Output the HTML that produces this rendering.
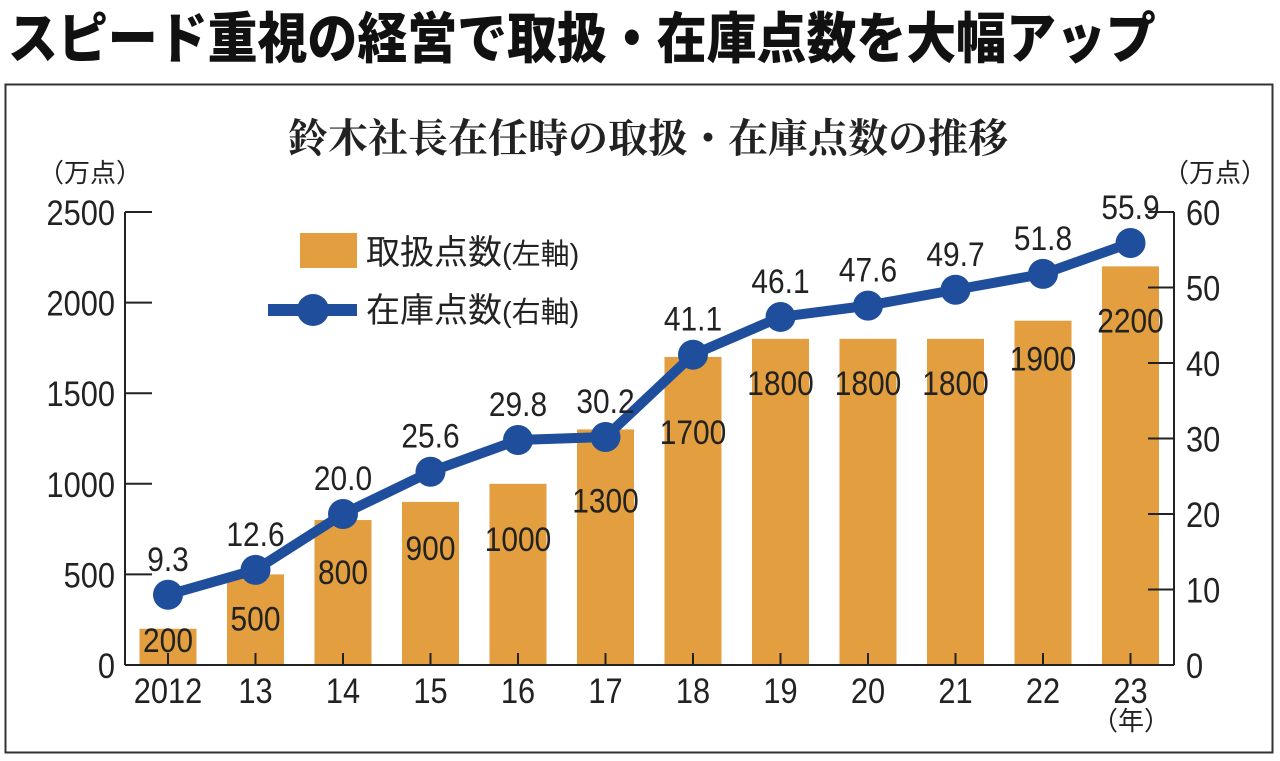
<!DOCTYPE html>
<html><head><meta charset="utf-8"><style>
body{margin:0;background:#fff;width:1280px;height:761px;overflow:hidden}
svg{display:block}
text{font-family:"Liberation Sans","Noto Sans CJK JP",sans-serif}
</style></head><body>
<svg id="c" width="1280" height="761">
<text transform="translate(8,58) scale(1.04,1.15)" font-size="48" font-weight="900" fill="#111" style="font-family:'Noto Sans CJK JP',sans-serif">スピード重視の経営で取扱・在庫点数を大幅アップ</text>
<rect x="5.5" y="84.5" width="1267" height="668" fill="none" stroke="#333" stroke-width="2"/>
<text x="648" y="152" text-anchor="middle" font-size="40" font-weight="bold" fill="#222" style="font-family:'Noto Serif CJK SC',serif">鈴木社長在任時の取扱・在庫点数の推移</text>
<text x="38" y="182" font-size="26" fill="#222">（万点）</text>
<text x="1163" y="182" font-size="26" fill="#222">（万点）</text>
<g id="g"></g>
<g>
<rect x="300" y="233" width="57" height="35" fill="#e29e3f"/>
<text x="366" y="264" font-size="34" fill="#222">取扱点数<tspan font-size="29">(左軸)</tspan></text>
<line x1="268" y1="310" x2="357" y2="310" stroke="#1f4e9c" stroke-width="12"/>
<circle cx="313" cy="310" r="16" fill="#1f4e9c"/>
<text x="366" y="322" font-size="34" fill="#222">在庫点数<tspan font-size="29">(右軸)</tspan></text>
</g>
<text x="1131" y="730" text-anchor="middle" font-size="26" fill="#222">（年）</text>
</svg>
<script>
const categories=["2012","13","14","15","16","17","18","19","20","21","22","23"];
const handled=[200,500,800,900,1000,1300,1700,1800,1800,1800,1900,2200];
const stock=[9.3,12.6,20.0,25.6,29.8,30.2,41.1,46.1,47.6,49.7,51.8,55.9];
const leftTicks=[0,500,1000,1500,2000,2500];
const rightTicks=[0,10,20,30,40,50,60];
// label layout offsets (pixels below bar top)
const labelDy=[23,56,64,58,67,83,87,56,56,56,50,66];
const NS="http://www.w3.org/2000/svg",g=document.getElementById('g');
const y0=665,yTop=212;
const yL=v=>y0-(y0-yTop)*v/2500, yR=v=>y0-(y0-yTop)*v/60, xC=i=>168+i*87.5;
function mk(t,a,p){const e=document.createElementNS(NS,t);for(const k in a)e.setAttribute(k,a[k]);(p||g).appendChild(e);return e;}
function tx(x,y,s,anchor,str){const t=mk('text',{transform:`translate(${x},${y}) scale(0.88,1)`,'text-anchor':anchor,'font-size':s,fill:'#222'});t.textContent=str;return t;}
handled.forEach((v,i)=>{const r=mk('rect',{x:xC(i)-28.5,y:yL(v),width:57,height:y0-yL(v),fill:'#e29e3f'});

});
mk('line',{x1:125,y1:y0,x2:1174,y2:y0,stroke:'#222','stroke-width':2});
mk('line',{x1:125,y1:yTop,x2:125,y2:y0,stroke:'#222','stroke-width':2});
mk('line',{x1:1174,y1:yTop,x2:1174,y2:y0,stroke:'#222','stroke-width':2});
leftTicks.forEach(v=>{mk('line',{x1:125,y1:yL(v),x2:152,y2:yL(v),stroke:'#222','stroke-width':2});
const t=tx(115,yL(v)+13,35,'end',v);

});
rightTicks.forEach(v=>{mk('line',{x1:1148,y1:yR(v),x2:1174,y2:yR(v),stroke:'#222','stroke-width':2});
const t=tx(1186,yR(v)+13,35,'start',v);

});
categories.forEach((c,i)=>{mk('line',{x1:xC(i),y1:y0,x2:xC(i),y2:y0-12,stroke:'#222','stroke-width':2});
const t=tx(xC(i),703,35,'middle',c);

});
const pl=mk('polyline',{points:stock.map((v,i)=>xC(i)+','+yR(v)).join(' '),fill:'none',stroke:'#1f4e9c','stroke-width':10,'stroke-linejoin':'round'});


stock.forEach((v,i)=>{const c=mk('circle',{cx:xC(i),cy:yR(v),r:15,fill:'#1f4e9c'});


const t=tx(xC(i),yR(v)-24,34,'middle',v.toFixed(1));


const b=tx(xC(i),yL(handled[i])+labelDy[i],34,'middle',handled[i]);

});
</script>
</body></html>
